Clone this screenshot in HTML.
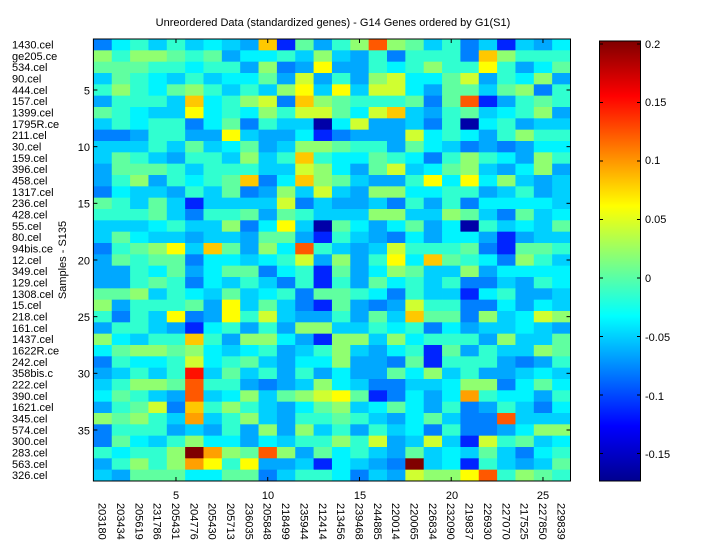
<!DOCTYPE html>
<html><head><meta charset="utf-8"><style>
html,body{margin:0;padding:0;background:#fff;}
svg{display:block;font-family:"Liberation Sans",sans-serif;}
</style></head><body>
<svg id="s" width="720" height="540" viewBox="0 0 720 540" xmlns="http://www.w3.org/2000/svg">
<rect width="720" height="540" fill="#fff"/>
<g id="cells"></g>
<rect x="93.4" y="39" width="477.1" height="442" fill="none" stroke="#000" stroke-width="1"/>
<g id="ticks" stroke="#000" stroke-width="1"></g>
<text x="333" y="26" font-size="11" text-anchor="middle">Unreordered Data (standardized genes) - G14 Genes ordered by G1(S1)</text>
<g font-size="11" text-anchor="start">
<text x="12" y="48.5">1430.cel</text><text x="12" y="59.8">ge205.ce</text><text x="12" y="71.1">534.cel</text><text x="12" y="82.5">90.cel</text><text x="12" y="93.8">444.cel</text><text x="12" y="105.1">157.cel</text><text x="12" y="116.5">1399.cel</text><text x="12" y="127.8">1795R.ce</text><text x="12" y="139.1">211.cel</text><text x="12" y="150.5">30.cel</text><text x="12" y="161.8">159.cel</text><text x="12" y="173.1">396.cel</text><text x="12" y="184.5">458.cel</text><text x="12" y="195.8">1317.cel</text><text x="12" y="207.1">236.cel</text><text x="12" y="218.5">428.cel</text><text x="12" y="229.8">55.cel</text><text x="12" y="241.1">80.cel</text><text x="12" y="252.5">94bis.ce</text><text x="12" y="263.8">12.cel</text><text x="12" y="275.1">349.cel</text><text x="12" y="286.5">129.cel</text><text x="12" y="297.8">1308.cel</text><text x="12" y="309.1">15.cel</text><text x="12" y="320.5">218.cel</text><text x="12" y="331.8">161.cel</text><text x="12" y="343.1">1437.cel</text><text x="12" y="354.5">1622R.ce</text><text x="12" y="365.8">242.cel</text><text x="12" y="377.1">358bis.c</text><text x="12" y="388.5">222.cel</text><text x="12" y="399.8">390.cel</text><text x="12" y="411.1">1621.cel</text><text x="12" y="422.5">345.cel</text><text x="12" y="433.8">574.cel</text><text x="12" y="445.1">300.cel</text><text x="12" y="456.5">283.cel</text><text x="12" y="467.8">563.cel</text><text x="12" y="479.1">326.cel</text>
</g>
<g font-size="11" text-anchor="end">
<text x="90" y="94.3">5</text><text x="90" y="151">10</text><text x="90" y="207.6">15</text><text x="90" y="264.3">20</text><text x="90" y="321">25</text><text x="90" y="377.6">30</text><text x="90" y="434.3">35</text>
</g>
<text transform="translate(66,260) rotate(-90)" font-size="11" text-anchor="middle">Samples - S135</text>
<g font-size="11" text-anchor="middle">
<text x="176" y="499">5</text><text x="268" y="499">10</text><text x="360" y="499">15</text><text x="452" y="499">20</text><text x="543" y="499">25</text>
</g>
<g font-size="11" id="xl">
<text transform="translate(98.6,503) rotate(90)">203180</text>
<text transform="translate(116.9,503) rotate(90)">203434</text>
<text transform="translate(135.3,503) rotate(90)">205619</text>
<text transform="translate(153.6,503) rotate(90)">231786</text>
<text transform="translate(172,503) rotate(90)">205431</text>
<text transform="translate(190.3,503) rotate(90)">204776</text>
<text transform="translate(208.7,503) rotate(90)">205430</text>
<text transform="translate(227,503) rotate(90)">205713</text>
<text transform="translate(245.4,503) rotate(90)">236035</text>
<text transform="translate(263.7,503) rotate(90)">205848</text>
<text transform="translate(282.1,503) rotate(90)">218499</text>
<text transform="translate(300.4,503) rotate(90)">235944</text>
<text transform="translate(318.8,503) rotate(90)">212414</text>
<text transform="translate(337.1,503) rotate(90)">213456</text>
<text transform="translate(355.5,503) rotate(90)">239468</text>
<text transform="translate(373.8,503) rotate(90)">244885</text>
<text transform="translate(392.2,503) rotate(90)">220014</text>
<text transform="translate(410.5,503) rotate(90)">220065</text>
<text transform="translate(428.9,503) rotate(90)">226834</text>
<text transform="translate(447.2,503) rotate(90)">232090</text>
<text transform="translate(465.6,503) rotate(90)">219837</text>
<text transform="translate(483.9,503) rotate(90)">226930</text>
<text transform="translate(502.3,503) rotate(90)">227070</text>
<text transform="translate(520.6,503) rotate(90)">217525</text>
<text transform="translate(539,503) rotate(90)">227850</text>
<text transform="translate(557.3,503) rotate(90)">229839</text>
</g>
<defs><linearGradient id="jet" x1="0" y1="1" x2="0" y2="0">
<stop offset="0" stop-color="#00008f"/><stop offset="0.125" stop-color="#0000ff"/><stop offset="0.375" stop-color="#00ffff"/><stop offset="0.625" stop-color="#ffff00"/><stop offset="0.875" stop-color="#ff0000"/><stop offset="1" stop-color="#800000"/>
</linearGradient></defs>
<rect x="599.5" y="41" width="41" height="440" fill="url(#jet)" stroke="#000" stroke-width="1"/>
<g id="cbt" stroke="#000"></g>
<g font-size="11">
<text x="645" y="48">0.2</text><text x="645" y="106">0.15</text><text x="645" y="164">0.1</text><text x="645" y="223">0.05</text><text x="645" y="282">0</text><text x="645" y="341">-0.05</text><text x="645" y="400">-0.1</text><text x="645" y="458">-0.15</text>
</g>
</svg>
<script>
var C={D:"#0000a8",B:"#0024ff",b:"#0080ff",a:"#00a8ff",c:"#00d0ff",C:"#00f4ff",t:"#30ffd0",g:"#60ffa0",G:"#90ff70",y:"#d0ff30",Y:"#ffff00",O:"#ffc800",o:"#ffa000",R:"#ff5800",r:"#ff1000",M:"#800000"};
var L=["bCtctcCcaOBga","GtGGgtgaCCtcG","gggttCttaGbaY","cgtCctcCCgaya","tGtCgGtctcGYc","atttcOCtGybOG","gtCccYCtCGtyy","ctCttbCgbtccD","bbattaaYcaaCB","ccctcgcCgacGG","cgtcattcGctOt","agggtctttccyG","atGatCtgObCOG","bCccatcgbaGcy","gtcgcBcccc ybc".replace(" ",""),"tttgcbttgagtc","cccCtccGbCYcD","cgCccaccaggaB","btgGYcOgaGCRt","agtggbCCcCtya","aatCgaCggbCtB","aatgtbCctcbtB","ggGctCcgcCtbg","GatttgaYcgcbB","tbtcYbaYtycaa","attcaBCtataGG","GCcttOtaGGCaB","CgGGgGCcCtact","btCCtyCtgcaCC","actctrcgctata","ctGGgRttabacG","CgtcaRcCGcgGy","atgybOtGtcaCg","GgGtcoctGcatt","btttacataGaGc","bgCctGCCaCctt","tCttGMoGgRGag","atGtGoYtYaacB","caggg CCggbctt".replace(" ","")];
var R=["tGRGgctbcBcaC","catbtttbOGttt","aatCtGttYtaCg","taGyCCgyatCGa","YcyyCaggcgGbt","gtttgbgRBatgt","gCyOcatgcCtGa","CyaacbtDCtacc","baaayCtCatGtt","gttagCcbabaCC","CCgtCbtGtCaGt","CagycCgGcaCGa","gcaatYCYCGcac","caGGCCttactac","aacbtatbCCCCc","ccGGccGgcbgcC","gCaCgaCDtcCcg","tcabCaCCaBacc","cacytttgbBggt","GatYCOgtCbGtc","gaCGgccGaCCCC","tagCtctbbcatC","gtCbtccBCtaac","gabayttbbCaCc","tagcOggbGcCyG","cctCtbCaccCca","GGcGCtttaGccg","GcaCtBgatccGg","GaabgBtttabat","CaagCGctaacCc","CcbbccCGGbCgC","YgBbCaCotCCat","GcCgCatbatcbC","gtcaCgcbbRccc","tatcCbtbbaCGG","GtyacycBytgcC","CtcagcCcgcbCt","CcabMcCBtcacg","CbcayGGYRtGgt"];
var g=document.getElementById("cells"),s="",x0=93.4,cw=18.35,y0=39,rh=11.333;
for(var r=0;r<39;r++){var row=L[r]+R[r];for(var c=0;c<26;c++){var col=C[row[c]]||"#00f4ff";s+='<rect x="'+(x0+c*cw).toFixed(2)+'" y="'+(y0+r*rh).toFixed(2)+'" width="'+(cw+0.4).toFixed(2)+'" height="'+(rh+0.4).toFixed(2)+'" fill="'+col+'"/>';}}
g.innerHTML=s;
var t="";
for(var k=5;k<=25;k+=5){var x=x0+(k-0.5)*cw;t+='<line x1="'+x+'" y1="39" x2="'+x+'" y2="43"/><line x1="'+x+'" y1="481" x2="'+x+'" y2="477"/>';}
for(var k=5;k<=35;k+=5){var y=y0+(k-0.5)*rh;t+='<line x1="93.4" y1="'+y+'" x2="97.4" y2="'+y+'"/><line x1="570.5" y1="'+y+'" x2="566.5" y2="'+y+'"/>';}
document.getElementById("ticks").innerHTML=t;
var u="",ys=[44,102.5,161,219.5,278,336.5,395,453.5];
for(var i=0;i<ys.length;i++){u+='<line x1="599.5" y1="'+ys[i]+'" x2="603" y2="'+ys[i]+'"/><line x1="640.5" y1="'+ys[i]+'" x2="637" y2="'+ys[i]+'"/>';}
document.getElementById("cbt").innerHTML=u;
</script>
</body></html>
